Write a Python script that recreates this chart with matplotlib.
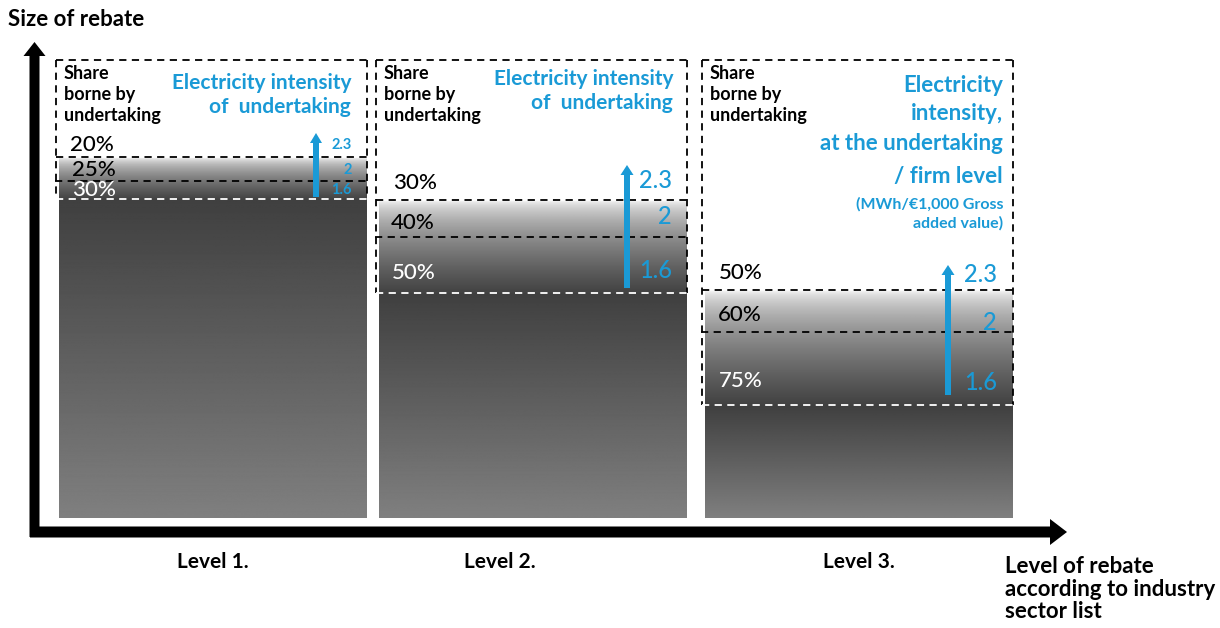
"""Rebate levels diagram: share borne by undertaking vs electricity intensity."""
import numpy as np
import matplotlib
matplotlib.use("Agg")
import matplotlib.pyplot as plt
from matplotlib.patches import FancyArrow

plt.rcParams["font.family"] = ["Lato", "DejaVu Sans"]

BLUE = "#1a9ad6"
BOTTOM = 518  # pixel row of the bar bottoms

# --- data (sizes measured upward from the bar bottoms) ---
levels = ["Level 1.", "Level 2.", "Level 3."]
share_labels = [["20%", "25%", "30%"], ["30%", "40%", "50%"], ["50%", "60%", "75%"]]
intensity_labels = ["2.3", "2", "1.6"]
band_top = [361, 318, 228]   # where the shaded band begins
band_mid = [337, 281, 186]   # middle threshold
bar_top = [319, 225, 113]    # full rebate level (solid bar)


def Y(px):
    return BOTTOM - px


def main():
    fig = plt.figure(figsize=(12.2, 6.28), dpi=100)
    ax = fig.add_axes([0, 0, 1, 1])
    ax.set_xlim(0, 1220)
    ax.set_ylim(BOTTOM - 628, BOTTOM)
    ax.axis("off")

    bar_left = [59, 379, 705]
    bar_w = 308
    level_x = [213, 500, 859]
    dash = (0, (4, 3))

    for i in range(3):
        x0 = bar_left[i]
        g, t_, m = band_top[i], bar_top[i], band_mid[i]
        ys = np.linspace(g, 0, 400)
        vals = np.empty_like(ys)
        upper = ys > t_
        t = (g - ys[upper]) / (g - t_)
        vals[upper] = 1 - 0.74 * t ** 0.55
        t2 = (t_ - ys[~upper]) / t_
        vals[~upper] = 0.25 + 0.25 * t2
        ax.imshow(vals[:, None], cmap="gray", vmin=0, vmax=1, aspect="auto",
                  extent=[x0, x0 + bar_w, 0, g], origin="upper", zorder=1)

        # dashed frames
        top = Y(60)
        ax.plot([x0 - 3, x0 + bar_w], [top, top], color="black", ls=dash, lw=1.3, zorder=3)
        ax.plot([x0 - 3, x0 - 3], [top, t_], color="black", ls=dash, lw=1.3, zorder=3)
        ax.plot([x0 + bar_w, x0 + bar_w], [top, t_], color="black", ls=dash, lw=1.3, zorder=3)
        ax.plot([x0 - 3, x0 + bar_w], [g, g], color="black", ls=dash, lw=1.3, zorder=3)
        ax.plot([x0 - 4, x0 + bar_w + 3], [m, m], color="black", ls=dash, lw=1.3, zorder=3)
        ax.plot([x0 - 3, x0 + bar_w + 1], [t_, t_], color="white", ls=dash, lw=1.3, zorder=3)

        ax.text(x0 + 5, Y(65), "Share\nborne by\nundertaking", ha="left", va="top",
                fontsize=13, fontweight="bold", linespacing=1.3, zorder=4)

        ax.text(level_x[i], Y(562), levels[i], ha="center", va="center",
                fontsize=15, fontweight="bold")

    # blue titles
    ax.text(351, Y(95), "Electricity intensity\nof  undertaking", ha="right", va="center",
            fontsize=15, fontweight="bold", color=BLUE, linespacing=1.28)
    ax.text(673, Y(91), "Electricity intensity\nof  undertaking", ha="right", va="center",
            fontsize=15, fontweight="bold", color=BLUE, linespacing=1.28)
    for txt, py in zip(["Electricity", "intensity,", "at the undertaking", "/ firm level"],
                       [85, 113, 144, 176]):
        ax.text(1003, Y(py), txt, ha="right", va="center", fontsize=16,
                fontweight="bold", color=BLUE)
    ax.text(1003, Y(214), "(MWh/€1,000 Gross\nadded value)", ha="right", va="center",
            fontsize=11.5, fontweight="bold", color=BLUE, linespacing=1.38)

    # share labels and intensity labels
    share_pos = [[(70, 145), (72, 170), (72, 190)],
                 [(393, 183), (391, 223), (392, 273)],
                 [(719, 273), (718, 315), (719, 381)]]
    share_col = ["black", "black", "white"]
    num_pos = [[(352, 145), (352, 170), (352, 190)],
               [(672, 180), (672, 216), (672, 271)],
               [(997, 275), (997, 322), (997, 382)]]
    num_size = [10.5, 17, 17]
    arrow_x = [316, 627, 948]
    arrow_from = [197, 288, 395]
    arrow_to = [133, 165, 265]
    for i in range(3):
        for j in range(3):
            px, py = share_pos[i][j]
            ax.text(px, Y(py), share_labels[i][j], ha="left", va="center",
                    fontsize=16, fontweight="medium", color=share_col[j], zorder=4)
            nx, ny = num_pos[i][j]
            ax.text(nx, Y(ny), intensity_labels[j], ha="right", va="center",
                    fontsize=num_size[i], fontweight="bold" if i == 0 else "medium",
                    color=BLUE, zorder=4)
        hw = 12 if i == 0 else 13
        ax.add_patch(FancyArrow(arrow_x[i], Y(arrow_from[i]), 0,
                                Y(arrow_to[i]) - Y(arrow_from[i]),
                                width=6, head_width=hw, head_length=10,
                                length_includes_head=True, color=BLUE, lw=0, zorder=5))

    # axes arrows
    ax.add_patch(FancyArrow(34.5, Y(537), 0, Y(42) - Y(537), width=10, head_width=22,
                            head_length=14, length_includes_head=True, color="black", lw=0))
    ax.add_patch(FancyArrow(30, Y(532), 1067 - 30, 0, width=11, head_width=26,
                            head_length=17, length_includes_head=True, color="black", lw=0))

    ax.text(8, Y(20), "Size of rebate", ha="left", va="center", fontsize=16,
            fontweight="bold")
    ax.text(1005, Y(589), "Level of rebate\naccording to industry\nsector list", ha="left",
            va="center", fontsize=16, fontweight="bold", linespacing=1.1)

    fig.savefig("out.png", dpi=100)


if __name__ == "__main__":
    main()
